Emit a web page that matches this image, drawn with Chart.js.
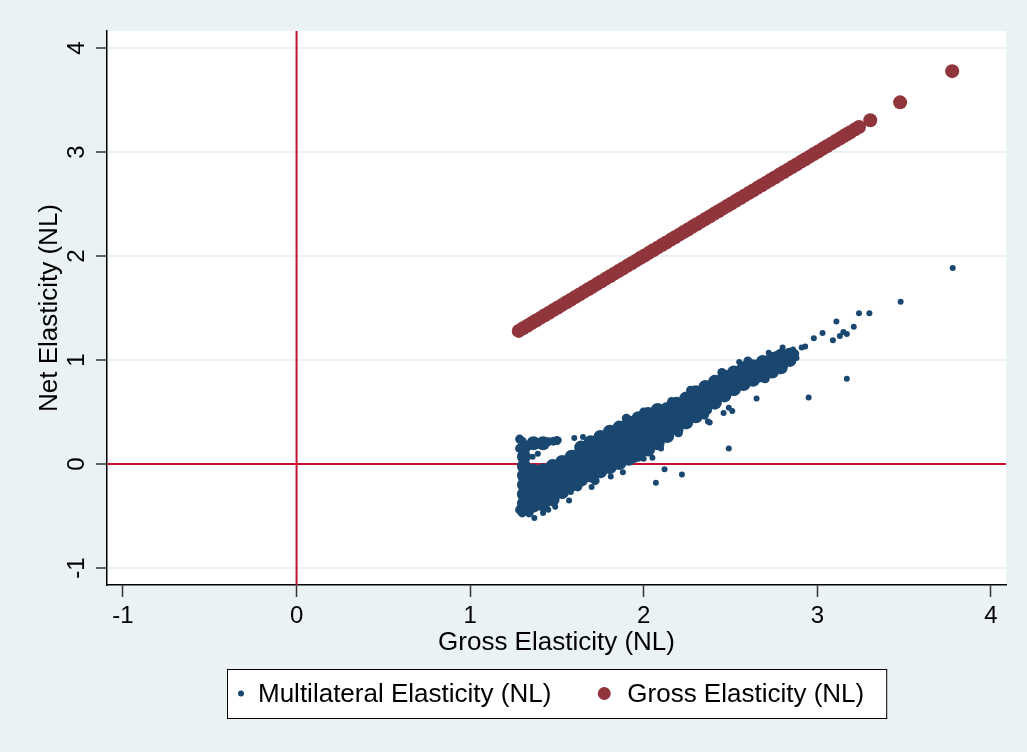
<!DOCTYPE html>
<html>
<head>
<meta charset="utf-8">
<style>
    html, body { margin: 0; padding: 0; background: #eaf2f3; }
    #wrap { width: 1027px; height: 752px; }
</style>
<script src="https://cdn.jsdelivr.net/npm/chart.js@4.4.1/dist/chart.umd.min.js"></script>
</head>
<body>
<div id="wrap"><canvas id="chart" width="1027" height="752"></canvas></div>
<script>
// Gross elasticity (NL) values; the red series plots gross against itself
const grossElasticity = [
    1.28, 1.305, 1.33, 1.355, 1.38, 1.405, 1.43, 1.455, 1.48, 1.505,
    1.53, 1.555, 1.58, 1.605, 1.63, 1.655, 1.68, 1.705, 1.73, 1.755,
    1.78, 1.805, 1.83, 1.855, 1.88, 1.905, 1.93, 1.955, 1.98, 2.005,
    2.03, 2.055, 2.08, 2.105, 2.13, 2.155, 2.18, 2.205, 2.23, 2.255,
    2.28, 2.305, 2.33, 2.355, 2.38, 2.405, 2.43, 2.455, 2.48, 2.505,
    2.53, 2.555, 2.58, 2.605, 2.63, 2.655, 2.68, 2.705, 2.73, 2.755,
    2.78, 2.805, 2.83, 2.855, 2.88, 2.905, 2.93, 2.955, 2.98, 3.005,
    3.03, 3.055, 3.08, 3.105, 3.13, 3.15, 3.17, 3.19, 3.215, 3.24,
    3.305, 3.477, 3.777
];

// Multilateral elasticity (NL): dense core of the cloud [gross, multilateral]
const multilateralCore = [
    [1.31, -0.38], [1.31, -0.29], [1.31, -0.20], [1.31, -0.11], [1.31, -0.02], [1.31, 0.07], [1.31, 0.16],
    [1.365, -0.40], [1.365, -0.31], [1.365, -0.22], [1.365, -0.13], [1.365, -0.065], [1.365, 0.20],
    [1.42, -0.39], [1.42, -0.30], [1.42, -0.21], [1.42, -0.12], [1.42, -0.06], [1.42, 0.20],
    [1.475, -0.34], [1.475, -0.25], [1.475, -0.16], [1.475, -0.07], [1.475, -0.02],
    [1.53, -0.27], [1.53, -0.18], [1.53, -0.09], [1.53, 0.02],
    [1.585, -0.20], [1.585, -0.11], [1.585, -0.02], [1.585, 0.07],
    [1.64, -0.15], [1.64, -0.06], [1.64, 0.03], [1.64, 0.12], [1.64, 0.16],
    [1.695, -0.11], [1.695, -0.02], [1.695, 0.07], [1.695, 0.16], [1.695, 0.21],
    [1.75, -0.07], [1.75, 0.02], [1.75, 0.11], [1.75, 0.20], [1.75, 0.26],
    [1.805, -0.03], [1.805, 0.06], [1.805, 0.15], [1.805, 0.24], [1.805, 0.31],
    [1.86, 0.01], [1.86, 0.10], [1.86, 0.19], [1.86, 0.28], [1.86, 0.35],
    [1.915, 0.05], [1.915, 0.14], [1.915, 0.23], [1.915, 0.32], [1.915, 0.40],
    [1.97, 0.09], [1.97, 0.18], [1.97, 0.27], [1.97, 0.36], [1.97, 0.44],
    [2.025, 0.14], [2.025, 0.23], [2.025, 0.32], [2.025, 0.41], [2.025, 0.48],
    [2.08, 0.20], [2.08, 0.29], [2.08, 0.38], [2.08, 0.46], [2.08, 0.52],
    [2.135, 0.27], [2.135, 0.36], [2.135, 0.45], [2.135, 0.53],
    [2.19, 0.34], [2.19, 0.43], [2.19, 0.51], [2.19, 0.58],
    [2.245, 0.40], [2.245, 0.48], [2.245, 0.56], [2.245, 0.63],
    [2.30, 0.46], [2.30, 0.54], [2.30, 0.62], [2.30, 0.69],
    [2.355, 0.53], [2.355, 0.61], [2.355, 0.68], [2.355, 0.74],
    [2.41, 0.59], [2.41, 0.67], [2.41, 0.74], [2.41, 0.79],
    [2.465, 0.66], [2.465, 0.73], [2.465, 0.79], [2.465, 0.84],
    [2.52, 0.72], [2.52, 0.79], [2.52, 0.85], [2.52, 0.88],
    [2.575, 0.77], [2.575, 0.84], [2.575, 0.90], [2.575, 0.92],
    [2.63, 0.81], [2.63, 0.88], [2.63, 0.94],
    [2.685, 0.85], [2.685, 0.92], [2.685, 0.98],
    [2.74, 0.89], [2.74, 0.96], [2.74, 1.01],
    [2.79, 0.93], [2.79, 0.99], [2.79, 1.04],
    [2.84, 1.00], [2.84, 1.05]
];

// the thin upper arm of the cloud near gross = 1.3 and a few edge clumps
const multilateralEdge = [
    [1.285, 0.24], [1.30, 0.22], [1.45, 0.215], [1.48, 0.22], [1.50, 0.225],
    [1.285, 0.15], [1.285, -0.44], [1.30, -0.47], [1.34, -0.47],
    [2.87, 1.06], [2.76, 1.04], [2.70, 0.82], [2.60, 0.99], [2.45, 0.88],
    [2.27, 0.71], [2.16, 0.60], [2.00, 0.50], [1.90, 0.44], [2.20, 0.30],
    [2.35, 0.47], [1.72, -0.16], [1.62, -0.22]
];

// scattered single observations
const multilateralSparse = [
    [3.78, 1.885], [3.48, 1.56], [3.30, 1.45], [3.24, 1.45], [3.21, 1.32],
    [3.17, 1.25], [3.15, 1.27], [3.13, 1.23], [3.11, 1.37], [3.09, 1.19],
    [3.03, 1.26], [2.98, 1.21], [3.17, 0.82], [2.95, 0.64], [2.88, 1.02],
    [2.91, 1.12], [2.93, 1.13], [2.86, 1.10], [2.84, 1.08], [2.72, 1.07],
    [2.72, 0.85], [2.68, 0.83], [2.55, 0.98], [2.65, 0.63], [2.46, 0.49],
    [2.49, 0.54], [2.51, 0.51], [2.38, 0.40], [2.37, 0.41], [2.49, 0.15],
    [2.10, 0.15], [2.05, 0.06], [2.12, -0.05], [2.22, -0.10], [2.07, -0.18],
    [2.00, 0.05], [1.95, 0.04], [1.88, -0.08], [1.81, -0.12], [1.70, -0.22],
    [1.60, 0.25], [1.65, 0.26], [1.51, 0.23], [1.58, -0.27], [1.57, -0.35],
    [1.49, -0.41], [1.45, -0.44], [1.42, -0.47], [1.37, -0.52], [1.35, -0.42],
    [1.31, -0.41], [2.75, 0.86], [2.66, 0.81], [2.79, 0.90], [2.80, 1.12],
    [1.39, 0.10], [1.36, 0.07]
];

const xTicks = [-1, 0, 1, 2, 3, 4];
const yTicks = [-1, 0, 1, 2, 3, 4];

const navy = '#1a476f';
const maroon = '#90353b';
const refRed = '#c8102e';
const bgColor = '#eaf2f3';
const fontFamily = '"Liberation Sans", Arial, sans-serif';

function toPoints(pairs) {
    return pairs.map(p => ({ x: p[0], y: p[1] }));
}

// background + white plot region
const backgroundPlugin = {
    id: 'stataBackground',
    beforeDraw(chart) {
        const { ctx, chartArea } = chart;
        ctx.save();
        ctx.fillStyle = bgColor;
        ctx.fillRect(0, 0, chart.width, chart.height);
        ctx.fillStyle = '#ffffff';
        ctx.fillRect(chartArea.left, chartArea.top, chartArea.right - chartArea.left, chartArea.bottom - chartArea.top);
        ctx.restore();
    }
};

// xline(0) yline(0)
const refLinePlugin = {
    id: 'refLines',
    beforeDatasetsDraw(chart) {
        const { ctx, chartArea, scales } = chart;
        const x0 = scales.x.getPixelForValue(0);
        const y0 = scales.y.getPixelForValue(0);
        ctx.save();
        ctx.strokeStyle = refRed;
        ctx.lineWidth = 2;
        ctx.beginPath();
        ctx.moveTo(x0, chartArea.top);
        ctx.lineTo(x0, chartArea.bottom);
        ctx.moveTo(chartArea.left, y0);
        ctx.lineTo(chartArea.right, y0);
        ctx.stroke();
        ctx.restore();
    }
};

// y tick labels are rotated like Stata's default
const yLabelPlugin = {
    id: 'rotatedYLabels',
    afterDraw(chart) {
        const { ctx, scales } = chart;
        ctx.save();
        ctx.fillStyle = '#000';
        ctx.font = '24px ' + fontFamily;
        ctx.textAlign = 'center';
        ctx.textBaseline = 'middle';
        yTicks.forEach(v => {
            const py = scales.y.getPixelForValue(v);
            ctx.save();
            ctx.translate(76, py);
            ctx.rotate(-Math.PI / 2);
            ctx.fillText(String(v), 0, 1);
            ctx.restore();
        });
        ctx.restore();
    }
};

// boxed legend under the x title
const boxLegendPlugin = {
    id: 'boxLegend',
    afterDraw(chart) {
        const { ctx, chartArea } = chart;
        const items = chart.data.datasets.filter(d => d.legendRadius);
        ctx.save();
        ctx.font = '26px ' + fontFamily;
        const widths = items.map(d => ctx.measureText(d.label).width);
        const total = 31 + widths[0] + 53 + 23 + widths[1] + 22;
        const left = Math.round((chartArea.left + chartArea.right) / 2 - total / 2);
        const top = 669, h = 49, mid = top + h / 2;
        ctx.fillStyle = '#fff';
        ctx.fillRect(left, top, total, h);
        ctx.strokeStyle = '#000';
        ctx.lineWidth = 1;
        ctx.strokeRect(left + 0.5, top + 0.5, total, h);

        const dots = [left + 14, left + 31 + widths[0] + 53];
        const texts = [left + 31, dots[1] + 23];
        items.forEach((d, i) => {
            ctx.fillStyle = d.backgroundColor;
            ctx.beginPath();
            ctx.arc(dots[i], mid, d.legendRadius, 0, Math.PI * 2);
            ctx.fill();
            ctx.fillStyle = '#000';
            ctx.textAlign = 'left';
            ctx.textBaseline = 'middle';
            ctx.fillText(d.label, texts[i], mid + 1);
        });
        ctx.restore();
    }
};

function buildChart() {
    const ctx = document.getElementById('chart').getContext('2d');
    return new Chart(ctx, {
        type: 'scatter',
        data: {
            datasets: [
                {
                    label: 'Multilateral Elasticity (NL)',
                    data: toPoints(multilateralSparse),
                    backgroundColor: navy,
                    borderWidth: 0,
                    pointRadius: 3,
                    legendRadius: 3
                },
                {
                    label: 'core',
                    data: toPoints(multilateralCore),
                    backgroundColor: navy,
                    borderWidth: 0,
                    pointRadius: 7
                },
                {
                    label: 'edge',
                    data: toPoints(multilateralEdge),
                    backgroundColor: navy,
                    borderWidth: 0,
                    pointRadius: 4.5
                },
                {
                    label: 'Gross Elasticity (NL)',
                    data: grossElasticity.map(g => ({ x: g, y: g })),
                    backgroundColor: maroon,
                    borderWidth: 0,
                    pointRadius: 7,
                    legendRadius: 6.5
                }
            ]
        },
        options: {
            responsive: false,
            animation: false,
            layout: { padding: { top: 31, right: 21, bottom: 0, left: 0 } },
            plugins: {
                legend: { display: false },
                tooltip: { enabled: false }
            },
            scales: {
                x: {
                    type: 'linear',
                    min: -1.092,
                    max: 4.087,
                    afterFit: scale => { scale.height = 167; },
                    afterBuildTicks: scale => { scale.ticks = xTicks.map(v => ({ value: v })); },
                    ticks: {
                        color: '#000',
                        padding: 5,
                        font: { family: fontFamily, size: 24 }
                    },
                    grid: {
                        drawOnChartArea: false,
                        tickLength: 12,
                        tickColor: '#333',
                        tickWidth: 1.5
                    },
                    border: { color: '#000', width: 1.5 },
                    title: {
                        display: true,
                        text: 'Gross Elasticity (NL)',
                        color: '#000',
                        font: { family: fontFamily, size: 26 },
                        padding: { top: 0, bottom: 94 }
                    }
                },
                y: {
                    type: 'linear',
                    min: -1.163,
                    max: 4.163,
                    afterFit: scale => { scale.width = 107; },
                    afterBuildTicks: scale => { scale.ticks = yTicks.map(v => ({ value: v })); },
                    ticks: { display: false },
                    grid: {
                        color: bgColor,
                        lineWidth: 2,
                        tickLength: 11,
                        tickColor: '#333',
                        tickWidth: 1.5
                    },
                    border: { color: '#000', width: 1.5 },
                    title: {
                        display: true,
                        text: 'Net Elasticity (NL)',
                        color: '#000',
                        font: { family: fontFamily, size: 26 },
                        padding: { top: 34, bottom: 0 }
                    }
                }
            }
        },
        plugins: [backgroundPlugin, refLinePlugin, yLabelPlugin, boxLegendPlugin]
    });
}

document.addEventListener('DOMContentLoaded', () => {
    buildChart();
});
</script>
</body>
</html>
